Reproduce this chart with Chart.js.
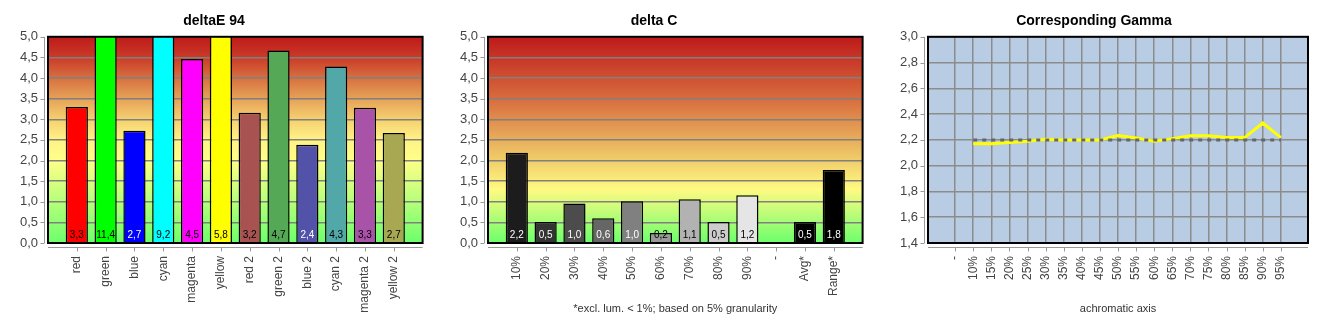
<!DOCTYPE html>
<html>
<head>
<meta charset="utf-8">
<script src="https://cdn.jsdelivr.net/npm/chart.js@4/dist/chart.umd.min.js"></script>
<style>
body { margin: 0; background: #fff; }
#wrap { position: relative; width: 1330px; height: 330px; }
canvas { position: absolute; top: 0; }
</style>
</head>
<body>
<div id="wrap">
  <canvas id="c1" width="450" height="330" style="left:0"></canvas>
  <canvas id="c2" width="450" height="330" style="left:440px"></canvas>
  <canvas id="c3" width="450" height="330" style="left:880px"></canvas>
</div>
<script>
// data
const deltaELabels = ['red', 'green', 'blue', 'cyan', 'magenta', 'yellow', 'red 2', 'green 2', 'blue 2', 'cyan 2', 'magenta 2', 'yellow 2'];
const deltaEValues = [3.30, 11.4, 2.72, 9.2, 4.46, 5.8, 3.16, 4.67, 2.38, 4.28, 3.28, 2.67];

const deltaCLabels = ['10%', '20%', '30%', '40%', '50%', '60%', '70%', '80%', '90%', '-', 'Avg*', 'Range*'];
const deltaCValues = [2.19, 0.51, 0.96, 0.60, 1.01, 0.24, 1.06, 0.51, 1.16, null, 0.51, 1.77];

const gammaLabels = ['-', '10%', '15%', '20%', '25%', '30%', '35%', '40%', '45%', '50%', '55%', '60%', '65%', '70%', '75%', '80%', '85%', '90%', '95%'];
const gammaValues = [null, 2.17, 2.17, 2.18, 2.19, 2.205, 2.20, 2.20, 2.20, 2.234, 2.215, 2.19, 2.21, 2.233, 2.233, 2.218, 2.218, 2.331, 2.218];
const gammaTarget = [null, 2.2, 2.2, 2.2, 2.2, 2.2, 2.2, 2.2, 2.2, 2.2, 2.2, 2.2, 2.2, 2.2, 2.2, 2.2, 2.2, 2.2, 2.2];

const deltaAxis = { min: 0, max: 5, step: 0.5 };
const gammaAxis = { min: 1.4, max: 3.0, step: 0.2 };

// styles
const deltaEColors = ['#ff0000', '#00ff00', '#0000ff', '#00ffff', '#ff00ff', '#ffff00', '#a85252', '#55a855', '#5252a8', '#52a8a8', '#a852a8', '#a8a852'];
const deltaETextColors = ['#000', '#000', '#fff', '#000', '#000', '#000', '#000', '#000', '#fff', '#000', '#000', '#000'];
const deltaCColors = ['#1c1c1c', '#333333', '#4c4c4c', '#666666', '#808080', '#999999', '#b2b2b2', '#cccccc', '#e5e5e5', '#000000', '#000000', '#000000'];
const deltaCTextColors = ['#fff', '#fff', '#fff', '#fff', '#fff', '#000', '#000', '#000', '#000', '#000', '#fff', '#fff'];

Chart.defaults.animation = false;
Chart.defaults.font.family = '"Liberation Sans", Arial, sans-serif';

function comma(v) {
    return Number(v).toFixed(1).replace('.', ',');
}
// empty slot before and after the categories
function padLabels(arr) { return [''].concat(arr, ['']); }
function padValues(arr) { return [null].concat(arr, [null]); }

const plotBackground = {
    id: 'plotBackground',
    beforeDraw(chart, args, opts) {
        const {ctx, chartArea: a} = chart;
        ctx.save();
        if (opts.stops) {
            let g = ctx.createLinearGradient(0, a.top, 0, a.bottom);
            opts.stops.forEach(s => g.addColorStop(s[0], s[1]));
            ctx.fillStyle = g;
        } else {
            ctx.fillStyle = opts.color;
        }
        ctx.fillRect(a.left, a.top, a.width, a.height);
        ctx.restore();
    }
};

const barValueLabels = {
    id: 'barValueLabels',
    afterDatasetsDraw(chart, args, opts) {
        if (!opts.colors) return;
        const {ctx, chartArea} = chart;
        const meta = chart.getDatasetMeta(0);
        const values = chart.data.datasets[0].data;
        ctx.save();
        ctx.font = '10px "Liberation Sans"';
        ctx.textAlign = 'center';
        ctx.textBaseline = 'middle';
        meta.data.forEach((bar, i) => {
            if (values[i] == null) return;
            ctx.fillStyle = opts.colors[i - 1];
            ctx.fillText(comma(values[i]), bar.x, chartArea.bottom - 8);
        });
        ctx.restore();
    }
};

// frame round the plot and axis lines set off from it
const offsetAxes = {
    id: 'offsetAxes',
    afterDraw(chart) {
        const {ctx, chartArea: a, scales: {x, y}} = chart;
        ctx.save();
        ctx.strokeStyle = '#999';
        ctx.lineWidth = 1;
        ctx.beginPath();
        const ax = Math.round(a.left - 4) + 0.5;
        ctx.moveTo(ax, a.top);
        ctx.lineTo(ax, a.bottom);
        y.ticks.forEach((t, i) => {
            const py = Math.round(y.getPixelForTick(i)) + 0.5;
            ctx.moveTo(ax - 4, py);
            ctx.lineTo(ax, py);
        });
        const ay = Math.round(a.bottom + 4) + 0.5;
        ctx.moveTo(a.left, ay);
        ctx.lineTo(a.right, ay);
        x.ticks.forEach((t, i) => {
            if (t.label === '') return;
            const px = Math.round(x.getPixelForTick(i)) + 0.5;
            ctx.moveTo(px, ay);
            ctx.lineTo(px, ay + 4);
        });
        ctx.stroke();
        ctx.strokeStyle = '#000';
        ctx.lineWidth = 2;
        ctx.strokeRect(a.left, a.top, a.width, a.height);
        ctx.restore();
    }
};

function baseOptions(title, axis, xTitle) {
    return {
        responsive: false,
        layout: { padding: { left: 0, right: 22, top: 0, bottom: 0 } },
        plugins: {
            legend: { display: false },
            tooltip: { enabled: false },
            title: {
                display: true,
                text: title,
                color: '#000',
                font: { size: 14, weight: 'bold' },
                padding: { top: 13, bottom: 7 }
            }
        },
        scales: {
            x: {
                border: { display: false },
                grid: { display: false, drawTicks: false },
                ticks: {
                    autoSkip: false,
                    minRotation: 90,
                    maxRotation: 90,
                    padding: 13,
                    color: '#444',
                    font: { size: 12 }
                },
                title: {
                    display: !!xTitle,
                    text: xTitle || '',
                    color: '#333',
                    font: { size: 11 },
                    padding: { top: 0, bottom: 14 }
                },
                afterFit(scale) { scale.height = 87; }
            },
            y: {
                min: axis.min,
                max: axis.max,
                border: { display: false },
                grid: { color: '#808080', lineWidth: 1.5, drawTicks: false },
                ticks: {
                    stepSize: axis.step,
                    padding: 10,
                    color: '#444',
                    font: { size: 13 },
                    callback: v => comma(v)
                },
                afterFit(scale) { scale.width = 48; }
            }
        }
    };
}

function deltaChart(id, title, labels, values, colors, textColors, stops, xTitle) {
    const options = baseOptions(title, deltaAxis, xTitle);
    options.scales.x.offset = false;
    options.plugins.plotBackground = { stops: stops };
    options.plugins.barValueLabels = { colors: textColors };
    return new Chart(document.getElementById(id), {
        type: 'bar',
        data: {
            labels: padLabels(labels),
            datasets: [{
                data: padValues(values),
                backgroundColor: [null].concat(colors, [null]),
                borderColor: '#000',
                borderWidth: 1.5,
                barPercentage: 0.77,
                categoryPercentage: 1
            }]
        },
        options: options,
        plugins: [plotBackground, barValueLabels, offsetAxes]
    });
}

deltaChart('c1', 'deltaE 94', deltaELabels, deltaEValues, deltaEColors, deltaETextColors, [
    [0, '#be1a1a'], [0.1, '#ca3b28'], [0.25, '#de8a4c'], [0.4, '#f5d070'],
    [0.5, '#fff286'], [0.6, '#ffff88'], [1, '#6cff6c']
]);

deltaChart('c2', 'delta C', deltaCLabels, deltaCValues, deltaCColors, deltaCTextColors, [
    [0, '#be1a1a'], [0.3, '#d86c3e'], [0.55, '#ecbe63'], [0.74, '#fffa82'], [1, '#6cff6c']
], '*excl. lum. < 1%; based on 5% granularity');

// gamma
const gOpts = baseOptions('Corresponding Gamma', gammaAxis, 'achromatic axis');
gOpts.plugins.plotBackground = { color: '#b8cce4' };
gOpts.scales.x.offset = true;
gOpts.scales.x.grid = {
    display: true,
    drawTicks: false,
    lineWidth: 1.5,
    color: c => (c.tick && c.tick.label !== '') ? '#8c8c8c' : 'rgba(0,0,0,0)'
};
gOpts.scales.y.grid.color = '#8c8c8c';
new Chart(document.getElementById('c3'), {
    type: 'line',
    data: {
        labels: padLabels(gammaLabels),
        datasets: [{
            data: padValues(gammaTarget),
            borderColor: '#666666',
            borderWidth: 3,
            borderDash: [4, 5],
            pointRadius: 0,
            order: 0
        }, {
            data: padValues(gammaValues),
            borderColor: '#ffff00',
            borderWidth: 3,
            pointRadius: 0,
            tension: 0,
            order: 1
        }]
    },
    options: gOpts,
    plugins: [plotBackground, offsetAxes]
});
</script>
</body>
</html>
